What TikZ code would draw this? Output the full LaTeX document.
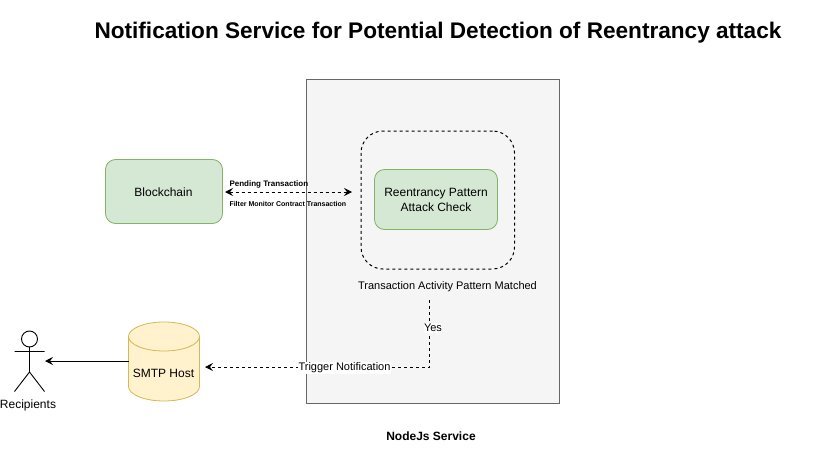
\documentclass[tikz,border=0pt]{standalone}
\usepackage{fontspec}
\setmainfont{Liberation Sans}
\usetikzlibrary{arrows.meta,shapes.geometric}
\definecolor{greenfill}{HTML}{D5E8D4}
\definecolor{greenline}{HTML}{82B366}
\definecolor{yellowfill}{HTML}{FFF2CC}
\definecolor{yellowline}{HTML}{D6B656}
\definecolor{panelfill}{HTML}{F5F5F5}
\definecolor{panelline}{HTML}{666666}
\tikzset{
  x=1pt,y=-1pt,
  every node/.style={inner sep=0pt,outer sep=0pt,text=black,font=\fontsize{12}{15}\selectfont},
  greenbox/.style={draw=greenline,fill=greenfill,rounded corners=10pt,line width=0.8pt,align=center},
  headtip/.tip={Stealth[length=8pt,width=8pt,inset=3pt]},
  conn/.style={line width=1pt},
  dashline/.style={conn,dash pattern=on 3pt off 3pt},
  small/.style={font=\bfseries\fontsize{8}{10}\selectfont},
  smaller/.style={font=\bfseries\fontsize{7}{9}\selectfont},
  lab/.style={font=\fontsize{11}{13}\selectfont},
  whitebg/.style={fill=white,inner xsep=0.5pt,inner ysep=1pt},
}
\begin{document}
\begin{tikzpicture}
\useasboundingbox (0,0) rectangle (840,452);
\node[font=\bfseries\fontsize{22.6}{25}\selectfont,anchor=center] (title) at (438,32.5) {Notification Service for Potential Detection of Reentrancy attack};
\node[draw=panelline,fill=panelfill,line width=0.8pt,minimum width=253pt,minimum height=324pt,anchor=north west] (panel) at (306.5,79.5) {};
\node[draw=black,rounded corners=22pt,dash pattern=on 3pt off 3pt,line width=1pt,minimum width=153.5pt,minimum height=138pt,anchor=north west] (group) at (361,131) {};
\node[greenbox,minimum width=123pt,minimum height=60pt,anchor=north west] (check) at (374.5,169.5) {Reentrancy Pattern\\Attack Check};
\node[greenbox,minimum width=117pt,minimum height=64pt,anchor=north west] (chain) at (105.5,159.5) {};
\node (chainlabel) at (163.5,192.5) {Blockchain};
\coordinate (gl) at (352,192);
\coordinate (cr) at (225,192);
\draw[dashline,headtip-headtip] (cr) -- (gl);
\node[small,anchor=west] (pend) at (229.5,184) {Pending Transaction};
\node[smaller,anchor=west] (filt) at (229.5,203.5) {Filter Monitor Contract Transaction};
\node[lab,anchor=center] (matched) at (447.5,286.5) {Transaction Activity Pattern Matched};
% cylinder
\path[draw=yellowline,fill=yellowfill,line width=0.8pt]
  (128.5,336.5) -- (128.5,386.5) arc[start angle=180,end angle=360,x radius=35.5pt,y radius=14.5pt]
  -- (199.5,336.5) arc[start angle=0,end angle=180,x radius=35.5pt,y radius=14.5pt] -- cycle;
\path[draw=yellowline,line width=0.8pt]
  (128.5,336.5) arc[start angle=180,end angle=360,x radius=35.5pt,y radius=14.5pt];
\node[anchor=center] (smtp) at (163.5,373.5) {SMTP Host};
\coordinate (smtpl) at (128.5,361);
\coordinate (smtpr) at (205,367);
% actor
\draw[line width=0.9pt,fill=white] (29.5,339) circle[radius=8pt];
\draw[line width=0.9pt] (29.5,347) -- (29.5,372) (14.5,351.5) -- (44.5,351.5) (14.5,391.5) -- (29.5,372) -- (44.5,391.5);
\coordinate (actor) at (45,361);
\node[anchor=center] (recip) at (28,405.5) {Recipients};
\draw[conn,-headtip] (smtpl) -- (actor);
\coordinate (yes1) at (429.5,300);
\coordinate (corner) at (429.5,367);
\draw[dashline,-headtip] (yes1) -- (corner) -- (smtpr);
\node[lab,whitebg] (yes) at (433,328) {Yes};
\node[lab,whitebg] (trig) at (344.5,368) {Trigger Notification};
\node[font=\bfseries\fontsize{12}{13}\selectfont] (nodejs) at (431,436) {NodeJs Service};
\end{tikzpicture}
\end{document}
